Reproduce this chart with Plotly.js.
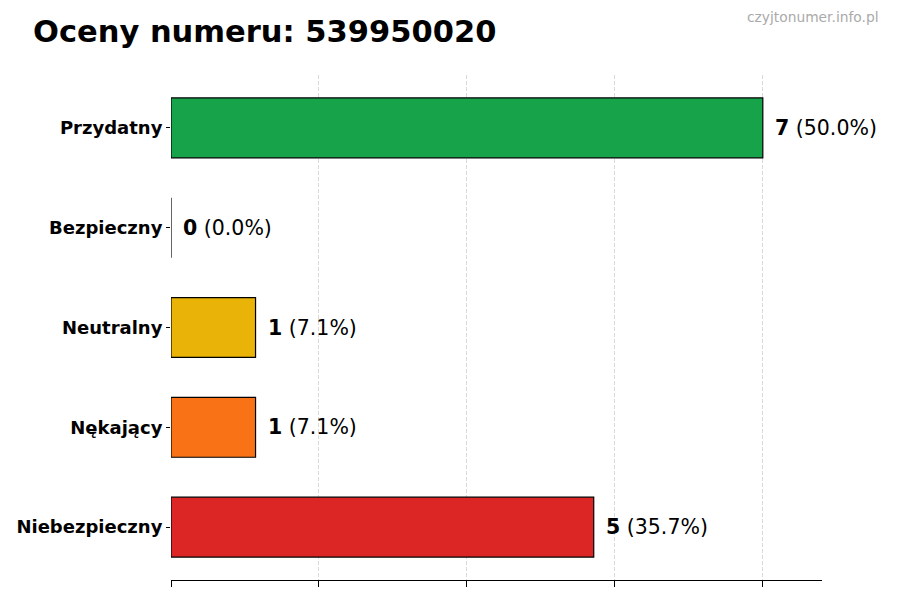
<!DOCTYPE html>
<html>
<head>
<meta charset="utf-8">
<script src="https://cdn.plot.ly/plotly-3.0.1.min.js"></script>
<style>
  html, body { margin: 0; padding: 0; background: #fff; }
  #chart { width: 900px; height: 600px; }
</style>
</head>
<body>
<div id="chart"></div>
<script>
// bottom to top, as the value axis reads
const categories = ["Niebezpieczny", "Nękający", "Neutralny", "Bezpieczny", "Przydatny"];
const counts = [5, 1, 1, 0, 7];
const barColors = ["#dc2626", "#f97316", "#eab308", "#3b82f6", "#16a34a"];

const total = counts.reduce((a, b) => a + b, 0);

const trace = {
  type: "bar",
  orientation: "h",
  x: counts,
  y: categories,
  width: 0.6,
  marker: {
    color: barColors,
    line: { color: "#000", width: 1.2 }
  },
  hoverinfo: "skip"
};

const annotations = categories.map((cat, i) => ({
  x: counts[i],
  y: cat,
  xref: "x",
  yref: "y",
  xanchor: "left",
  yanchor: "middle",
  xshift: 10,
  showarrow: false,
  text: "<b>" + counts[i] + "</b> (" + (counts[i] / total * 100).toFixed(1) + "%)",
  font: { family: "DejaVu Sans", size: 20.5, color: "#000" }
}));

annotations.push({
  xref: "paper", yref: "paper",
  x: 1 + 59 / 651, y: 1 + 58 / 505,
  xanchor: "right", yanchor: "middle",
  showarrow: false,
  text: "czyjtonumer.info.pl",
  font: { family: "DejaVu Sans", size: 13.8, color: "#aaaaaa" }
});

const layout = {
  width: 900,
  height: 600,
  margin: { l: 171, r: 78, t: 75, b: 20 },
  paper_bgcolor: "#fff",
  plot_bgcolor: "#fff",
  showlegend: false,
  title: {
    text: "<b>Oceny numeru: 539950020</b>",
    x: 33 / 900,
    xanchor: "left",
    xref: "container",
    y: 1 - 31 / 600,
    yanchor: "middle",
    yref: "container",
    font: { family: "DejaVu Sans", size: 30.5, color: "#000" }
  },
  xaxis: {
    range: [0, 7.7],
    tick0: 0,
    dtick: 1.75,
    showticklabels: false,
    ticks: "outside",
    ticklen: 6,
    tickcolor: "#000",
    showline: true,
    linecolor: "#000",
    linewidth: 1.2,
    showgrid: true,
    gridcolor: "rgba(170,170,170,0.45)",
    griddash: "4px,2px",
    gridwidth: 1,
    zeroline: false,
    layer: "above traces",
    fixedrange: true
  },
  yaxis: {
    type: "category",
    categoryorder: "array",
    categoryarray: categories,
    range: [-0.53, 4.53],
    ticks: "outside",
    ticklen: 4,
    tickcolor: "#000",
    showline: false,
    showgrid: false,
    zeroline: false,
    tickfont: { family: "DejaVu Sans", size: 18, color: "#000", weight: "bold" },
    fixedrange: true
  },
  annotations: annotations
};

Plotly.newPlot("chart", [trace], layout, { displayModeBar: false, staticPlot: true });
</script>
</body>
</html>
